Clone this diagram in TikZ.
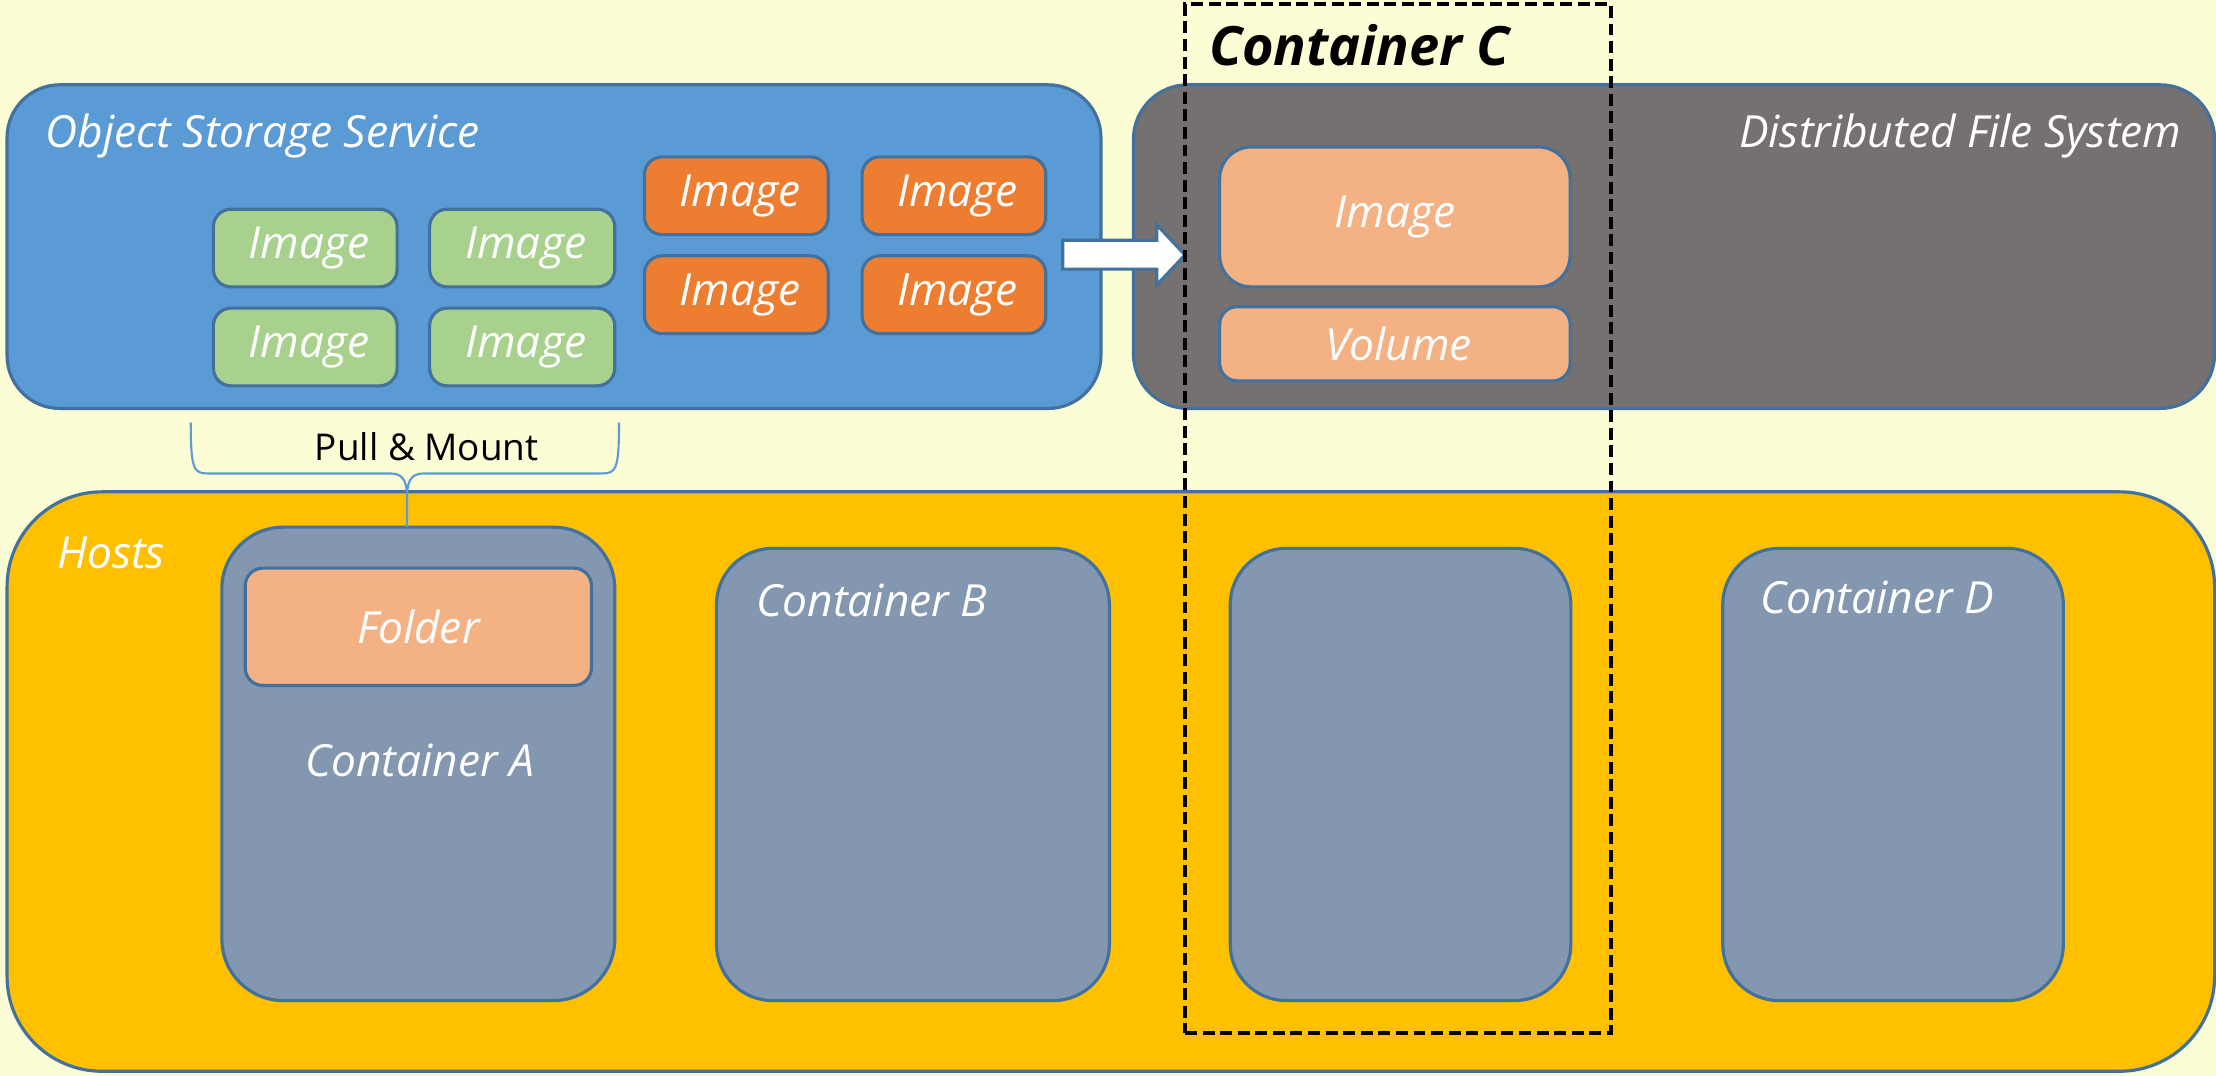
\documentclass[tikz,border=0pt]{standalone}
\usepackage{fontspec}
\setmainfont{Open Sans}
\usetikzlibrary{fit}

\definecolor{paper}{HTML}{FCFCD5}
\definecolor{ossblue}{HTML}{5B9BD5}
\definecolor{dfsgray}{HTML}{767171}
\definecolor{hostgold}{HTML}{FFC000}
\definecolor{imggreen}{HTML}{A9D18E}
\definecolor{imgorange}{HTML}{ED7D31}
\definecolor{peach}{HTML}{F4B183}
\definecolor{slate}{HTML}{8497B0}
\definecolor{edge}{HTML}{41719C}

\tikzset{
  region/.style={draw=edge, line width=0.9pt, inner sep=0pt},
  lbl/.style={text=white, inner sep=0pt, font=\fontsize{12.6}{15}\selectfont\itshape},
  bracepath/.style={draw=ossblue, line width=0.6pt},
  blockarrow/.style={draw=edge, line width=0.9pt, fill=white, line join=miter},
  groupbox/.style={draw=black, line width=1pt, dash pattern=on 3.4pt off 1.6pt}
}

\begin{document}
\begin{tikzpicture}[x=0.014133cm, y=-0.014133cm]
  % page
  \fill[paper] (0,0) rectangle (1568,761.35);
  \useasboundingbox (0,0) rectangle (1568,761.35);

  % storage back ends
  \node[region, fill=ossblue, rounded corners=15pt, fit={(5,60) (779,289)}] (oss) {};
  \node[region, fill=dfsgray, rounded corners=15.5pt, fit={(802,60) (1567,289)}] (dfs) {};
  \node[lbl, anchor=west] (osslbl) at (32,96) {Object Storage Service};
  \node[lbl, anchor=east] (dfslbl) at (1544,96) {Distributed File System};

  % images in object storage
  \node[region, fill=imggreen, rounded corners=5pt, fit={(151,148) (281,203)}] (g1) {};
  \node[region, fill=imggreen, rounded corners=5pt, fit={(304,148) (435,203)}] (g2) {};
  \node[region, fill=imggreen, rounded corners=5pt, fit={(151,218) (281,273)}] (g3) {};
  \node[region, fill=imggreen, rounded corners=5pt, fit={(304,218) (435,273)}] (g4) {};
  \node[region, fill=imgorange, rounded corners=5pt, fit={(456,111) (586,166)}] (o1) {};
  \node[region, fill=imgorange, rounded corners=5pt, fit={(610,111) (740,166)}] (o2) {};
  \node[region, fill=imgorange, rounded corners=5pt, fit={(456,181) (586,236)}] (o3) {};
  \node[region, fill=imgorange, rounded corners=5pt, fit={(610,181) (740,236)}] (o4) {};
  \foreach \t in {g1,g2,g3,g4,o1,o2,o3,o4}
    \node[lbl] (\t-text) at ([xshift=1pt]\t.center) {Image};

  % contents of the distributed file system
  \node[region, fill=peach, rounded corners=9pt, fit={(863,104) (1111,203)}] (dimg) {};
  \node[lbl] (dimg-text) at (dimg.center) {Image};
  \node[region, fill=peach, rounded corners=5pt, fit={(863,217) (1111,269.5)}] (dvol) {};
  \node[lbl] (dvol-text) at ([xshift=1pt]dvol.center) {Volume};

  % transfer arrow between the two stores
  \draw[blockarrow] (752,170) -- (818.5,170) -- (818.5,159) -- (838.5,180.4)
    -- (818.5,201.6) -- (818.5,190.4) -- (752,190.4) -- cycle;

  % hosts and containers
  \node[region, fill=hostgold, rounded corners=27pt, fit={(5,348) (1567,758)}] (hosts) {};
  \node[lbl, anchor=west] (hostslbl) at (40,391) {Hosts};

  \node[region, fill=slate, rounded corners=17.5pt, fit={(157,373) (435,708)}] (ca) {};
  \node[region, fill=peach, rounded corners=5pt, fit={(173.5,402) (418.5,485)}] (folder) {};
  \node[lbl] (folder-text) at (folder.center) {Folder};
  \node[lbl] (calbl) at (297,538) {Container A};

  \node[region, fill=slate, rounded corners=16pt, fit={(507,388) (785,708)}] (cb) {};
  \node[lbl, anchor=west] (cblbl) at (535,425) {Container B};

  \node[region, fill=slate, rounded corners=16pt, fit={(870.5,388) (1111.5,708)}] (cc) {};

  \node[region, fill=slate, rounded corners=16pt, fit={(1219,388) (1460,708)}] (cd) {};
  \node[lbl, anchor=west] (cdlbl) at (1245,423) {Container D};

  % pull & mount brace from object storage down to container A
  \coordinate (tip) at (288,373);
  \draw[bracepath] (135,299) .. controls (135,332) and (137,335) .. (147,335)
    -- (276,335) .. controls (285,335) and (288,340) .. (288,352) -- (tip);
  \draw[bracepath] (438,299) .. controls (438,332) and (436,335) .. (426,335)
    -- (300,335) .. controls (291,335) and (288,340) .. (288,352);
  \node[inner sep=0pt, font=\fontsize{10.5}{12}\selectfont] (pm) at (302,316) {Pull \& Mount};

  % everything belonging to container C
  \node[groupbox, inner sep=0pt, fit={(838.5,3) (1140,731)}] (grpc) {};
  \node[inner sep=0pt, anchor=west, font=\fontsize{15.4}{18}\selectfont\bfseries\itshape] (grpclbl) at (855,32) {Container C};
\end{tikzpicture}
\end{document}
